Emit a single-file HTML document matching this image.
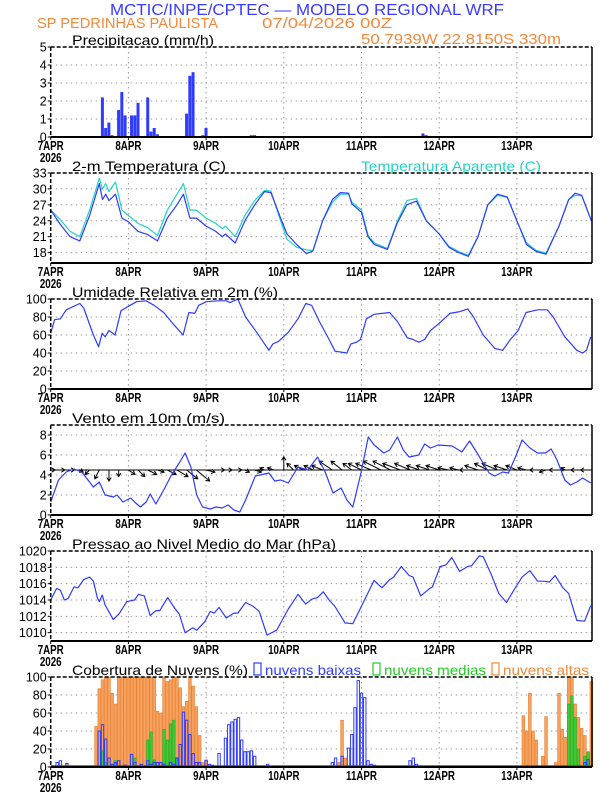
<!DOCTYPE html>
<html><head><meta charset="utf-8"><style>
html,body{margin:0;padding:0;background:#fff;}
svg{display:block;font-family:"Liberation Sans",sans-serif;}
</style></head><body>
<svg id="chart" width="612" height="792" viewBox="0 0 612 792" xmlns="http://www.w3.org/2000/svg">
<text x="110" y="15" font-size="16" fill="#3a3aff" textLength="394" lengthAdjust="spacingAndGlyphs">MCTIC/INPE/CPTEC — MODELO REGIONAL WRF</text>
<text x="37" y="28" font-size="15" fill="#f08a3c" textLength="181" lengthAdjust="spacingAndGlyphs">SP PEDRINHAS PAULISTA</text>
<text x="262" y="28" font-size="15" fill="#f08a3c" textLength="130" lengthAdjust="spacingAndGlyphs">07/04/2026 00Z</text>
<text x="361" y="44" font-size="15" fill="#f08a3c" textLength="200" lengthAdjust="spacingAndGlyphs">50.7939W 22.8150S 330m</text>
<g id="g"></g>
</svg>
<script>
// ---- data ----
const dayLabels=["7APR","8APR","9APR","10APR","11APR","12APR","13APR"];
const precipHours=[16,17,18,19,21,22,23,25,26,27,30,31,32,33,42,43,44,47,48,62,63,115,116];
const precipVals=[2.2,0.5,0.8,0.1,1.5,2.5,1.2,1.2,1.2,1.9,2.2,0.3,0.5,0.15,1.3,3.4,3.6,0.1,0.5,0.1,0.1,0.2,0.1];
const tempHours=[0,3,6,9,12,15,16,17,18,20,22,24,27,30,33,36,39,41,43,45,48,51,53,54,57,60,63,66,68,71,73,76,79,81,84,87,89.5,92,93,96,98,100,104,107,110,113,116,120,123,126,129,132,135,138,141,144,147,150,153,157,160,162,164,167];
const tempVals=[26,23.3,21,20.2,25,31,28,29,27.8,29,24.5,23.8,22,21.4,20.2,24.5,27,29,24.5,24.5,23,22,21,21.5,19.8,24,27,29.5,29.3,24.5,21.5,19.5,17.8,18.3,24,28,29.3,29.2,27.2,25.6,21,19.5,18.6,23.5,27,27.7,24,21.5,19,18,17.3,21,27,29,28.5,24,19.5,18.2,17.7,23,28,29.2,28.8,24];
const apparentVals=[26,24.2,22,21,26,32,30,31,29.5,31.3,26,25,23.5,22.7,21.2,26,29,31,26,26,24.5,23.5,22.5,23,21,25,27.8,29.7,29.6,24,20.5,19,18.5,18.4,24,27.5,29,29,27.5,26,21.3,19.8,18.8,23.8,27.8,28.2,24,21.5,19.2,18.2,17.5,21,27,28.8,28.4,24,19.8,18.4,17.9,23,28,28.8,28.7,24];
const rhHours=[0,1.2,3,4.8,9,10.2,13.2,14.8,15.9,16.8,18,19.9,21.7,24.1,26.5,29.5,31.9,34.9,37.9,40.9,42.7,44.5,45.7,48.1,51.7,54.2,55.4,57.8,60.2,63.8,67.4,68.6,70.4,73.4,76.4,78.8,80.6,83,86,87.8,91.5,92.7,94.5,95.7,97.5,99.9,104.7,107.1,110.1,111.9,113.7,115.5,117.3,119.7,123.3,126.4,128.8,130.6,133.6,137.2,139.6,142,144.4,146.8,150.4,153.4,155.2,158.8,162.5,164.3,165.5,166.8];
const rhVals=[62,77,78,88,95,90,60,47,62,58,65,60,87,92,97,98,93,85,72,60,85,84,93,97,98,98,96,100,80,62,43,50,53,63,78,95,93,75,55,42,40,50,52,55,78,83,85,75,57,55,52,55,65,72,84,86,89,80,60,45,43,55,65,85,88,88,80,58,43,40,43,58];
const windHours=[0,2.4,4.8,7.2,9.6,13.2,15,16.8,19.3,20.5,22.3,24.7,25.9,27.7,29.5,30.7,32.5,34.9,37.3,39.7,41.5,43.3,45.1,46.9,49.3,51.1,52.9,54.8,56.6,58.4,60.2,63.2,67.4,69.2,71,73.4,76.4,79.4,82.4,84.8,87.2,89.7,91.5,93.3,95.7,98.1,99.9,102.9,104.7,107.1,108.9,110.7,113.7,115.5,117.3,119.7,124,127,129.4,131.7,135.4,137.2,139.6,141.4,143.8,145.6,148,150.4,152.8,154.6,156.4,158.8,160.5,162.5,164.3,166.8];
const windSpeed=[1.3,3.5,4.3,4.6,4.3,2.8,3.3,2,1.8,2,1.3,1.7,1.3,0.8,1.3,2.1,1.1,2.5,4,5.2,6.2,4.8,2,0.8,0.6,0.8,0.7,1,0.5,0.3,1.5,3.9,4.2,3.4,3.5,3.2,4.8,4.5,5.8,4.3,2.2,2.7,1.5,0.8,4,7.8,7,6.2,6.5,7.8,6.5,5.8,6,7.1,6.7,7,6.9,6.3,7.4,6.2,4.2,3.9,4.3,4.2,6,7.5,6.7,6.2,6.2,6.6,5.5,3.5,3,3.3,3.7,3.2];
const vecHours=[0,3,6,9,12,15,18,21,24,27,30,33,36,39,42,45,48,51,54,57,60,63,66,69,72,75,78,81,84,87,90,93,96,99,102,105,108,111,114,117,120,123,126,129,132,135,138,141,144,147,150,153,156,159,162,165];
const vecU=[2,2,2,1.5,-2,-2,0,0,3,3,4,3,4,5,5,6,4,4,3,3,2,3,-2,-3,0,-3,-4,-4,-5,-6,-5,-4,-6,-7,-8,-8,-8,-7,-6,-6,-6,-5,-4,-4,-6,-6,-7,-6,-5,-4,-3,-3,-3,-2,-2,-2];
const vecV=[0,0,0,-1,-2,-4,-5,-3,-2,-3,-2,-1,-2,-3,-4,-5,-1,0,0,0,-1,-1,1,1,6,3,2,2,2,4,4,3,3,3,4,4,3,3,2,2,2,1,1,0,2,3,3,2,2,1,0,-1,0,1,0,0];
const presHours=[0,1.8,3,4.2,5.4,7.2,8.4,10.2,12,13.2,14.4,15,15.9,16.8,19.3,21.1,23.5,25.9,27.1,28.9,30.7,32.5,33.7,36.1,38.5,39.7,41.5,43.9,45.1,47.5,49.3,50.5,52,54.2,56.6,57.8,60.2,62.6,64.4,66.8,69.8,73.4,76.4,78.8,80.6,82.4,84.2,86,87.8,90.9,93.3,96.3,99.9,102.3,104.7,105.9,108.3,110.7,111.9,114.3,116.7,117.9,120.3,122.1,123.9,126.3,128.8,130,132.4,133.6,136,138.4,140.8,143.2,145.6,148,150.4,152.2,154,155.8,158.2,160,162.5,164.9,166.8];
const presVals=[1014,1015.4,1015.2,1014,1014.2,1015.6,1015.5,1016.5,1016.8,1016.3,1014.3,1013.8,1014.6,1013.4,1011.6,1012.3,1013.8,1014,1014.7,1014.5,1012.1,1012.7,1012.7,1014.3,1012.9,1012.3,1010,1010.6,1010.3,1011.3,1012.6,1012.4,1013.1,1011.8,1012.4,1012.4,1013.7,1013.2,1012.6,1009.7,1010.3,1012.9,1014.7,1013.5,1014.1,1014.3,1015,1014,1013.2,1011.2,1011.1,1013.5,1016.4,1015.5,1016.5,1016.8,1018.1,1017,1016.8,1014.5,1015.3,1015.6,1018.1,1018.3,1019.2,1017.5,1018.1,1018.2,1019.4,1019.3,1017.2,1014.8,1013.7,1015.3,1016.8,1017.6,1016.3,1016.3,1016.2,1017,1015.5,1014.8,1011.5,1011.4,1013.3];
const highHours=[5,14,15,16,17,18,19,20,21,22,23,24,25,26,27,28,29,30,31,32,33,34,35,36,37,38,39,40,41,42,43,44,45,46,47,48,89,90,91,146,147,148,149,150,152,153,156,157,158,159,160,161,162,163,164,165,166,167];
const highVals=[4,45,87,97,100,100,82,70,100,100,100,100,100,100,100,100,100,100,100,100,62,60,100,95,97,100,100,88,67,73,100,90,67,35,5,8,5,52,10,57,40,82,40,30,12,56,5,82,42,33,100,100,70,55,43,35,16,95];
const midHours=[16,17,20,26,30,31,32,35,36,37,38,39,160,161,162,163,165,166];
const midVals=[18,5,7,10,30,39,8,42,30,48,52,10,70,79,55,20,12,17];
const lowHours=[2,3,5,15,16,17,18,19,20,21,23,25,26,28,30,31,32,33,34,35,37,38,39,40,41,42,43,44,45,46,48,49,50,52,54,55,56,57,58,59,60,61,62,63,67,87,88,90,92,93,94,95,96,97,98,99,100,111,112,113,165,166];
const lowVals=[5,7,4,40,47,31,10,3,5,7,2,14,5,3,7,3,5,5,5,3,5,3,10,25,61,52,36,15,5,5,7,3,2,15,32,47,50,53,55,30,17,17,18,12,3,5,10,12,21,36,66,96,82,77,7,3,2,7,10,3,5,8];

// ---- layout ----
const NS="http://www.w3.org/2000/svg";
const G=document.getElementById('g');
const L=50.7,R=592,DAY=77.7;
function X(h){return L+h*DAY/24;}
function mk(tag,attrs,parent){const e=document.createElementNS(NS,tag);for(const k in attrs)e.setAttribute(k,attrs[k]);(parent||G).appendChild(e);return e;}
function panel(name,top,ymin,ymax,ticks,title,titleLen){
  const H=90,bot=top+H;
  const Y=v=>bot-(v-ymin)/(ymax-ymin)*H;
  const g=mk('g',{});
  
  
  const grid=mk('g',{},g);
  
  
  for(let d=1;d<7;d++){const x=L+d*DAY;mk('line',{x1:x,x2:x,y1:top,y2:bot,stroke:'#999','stroke-width':1,'stroke-dasharray':'1.5,3.5'},grid);}
  ticks.forEach(t=>{const y=Y(t);if(y>top+1&&y<bot-1)mk('line',{x1:L,x2:R,y1:y,y2:y,stroke:'#999','stroke-width':1,'stroke-dasharray':'1.5,3.5'},grid);
    const tl=mk('text',{x:L-4,y:y+4.5,'font-size':12.5,'text-anchor':'end',fill:'#000'},g);tl.textContent=t;
    
    
    mk('line',{x1:L-3,x2:L,y1:y,y2:y,stroke:'#000'},g);});
  dayLabels.forEach((lab,d)=>{const x=L+d*DAY;
    const t=mk('text',{x:x,y:bot+13,'font-size':13,'text-anchor':'middle',fill:'#000','font-weight':'bold',transform:`translate(${x},0) scale(0.75,1) translate(${-x},0)`},g);t.textContent=lab;
    
    
    mk('line',{x1:x,x2:x,y1:bot,y2:bot+3,stroke:'#000'},g);});
  const yr=mk('text',{x:L,y:bot+25,'font-size':13,'text-anchor':'middle',fill:'#000','font-weight':'bold',transform:`translate(${L},0) scale(0.75,1) translate(${-L},0)`},g);yr.textContent='2026';
  
  
  const tt=mk('text',{x:72,y:top-2,'font-size':14,fill:'#000',textLength:titleLen,lengthAdjust:'spacingAndGlyphs'},g);tt.textContent=title;
  
  
  const plot=mk('g',{},g);
  
  
  return {Y,top,bot,plot,g,frame(){
    mk('line',{x1:L,x2:R,y1:top,y2:top,stroke:'#000','stroke-width':1.5,'stroke-dasharray':'4,2'},g);
    mk('line',{x1:L,x2:L,y1:top,y2:bot,stroke:'#000','stroke-width':1.5,'stroke-dasharray':'4,2'},g);
    mk('line',{x1:R,x2:R,y1:top,y2:bot,stroke:'#000','stroke-width':1.5},g);
    mk('line',{x1:L,x2:R,y1:bot,y2:bot,stroke:'#000','stroke-width':2},g);}};
}
function line(p,hs,vs,color,name){
  const d=hs.map((h,i)=>(i?'L':'M')+X(h).toFixed(1)+','+p.Y(vs[i]).toFixed(1)).join('');
  const e=mk('path',{d:d,fill:'none',stroke:color,'stroke-width':1.2,'stroke-linejoin':'round'},p.plot);
  
  
}
const BLUE='#2f3cff';
const p1=panel('precip',47,0,5,[0,1,2,3,4,5],'Precipitacao (mm/h)',142);
precipHours.forEach((h,i)=>{const y=p1.Y(precipVals[i]);
  const b=mk('rect',{x:X(h)-1.6,y:y,width:3,height:p1.bot-y,fill:BLUE},p1.plot);
  
  });
p1.frame();
const p2=panel('temperature',173,16.04,33,[18,21,24,27,30,33],'2-m Temperatura (C)',154);
line(p2,tempHours,apparentVals,'#22d4c4','apparent-temperature-line');
line(p2,tempHours,tempVals,BLUE,'temperature-line');
const at=mk('text',{x:361,y:171,'font-size':14,fill:'#22d4c4',textLength:180,lengthAdjust:'spacingAndGlyphs'},p2.g);at.textContent='Temperatura Aparente (C)';


p2.frame();
const p3=panel('humidity',299,0,100,[0,20,40,60,80,100],'Umidade Relativa em 2m (%)',206);
line(p3,rhHours,rhVals,BLUE,'humidity-line');
p3.frame();
const p4=panel('wind',425,0,9,[0,2,4,6,8],'Vento em 10m (m/s)',153);
const base=p4.Y(4.5);
vecHours.forEach((h,i)=>{const x0=X(h),u=vecU[i]*2.2,v=vecV[i]*2.2;const x1=x0+u,y1=base-v;
  const len=Math.hypot(u,v)||1,ux=u/len,uy=-v/len;
  const d=`M${x0},${base}L${x1},${y1}M${x1-ux*3.5-uy*2.2},${y1-uy*3.5+ux*2.2}L${x1},${y1}L${x1-ux*3.5+uy*2.2},${y1-uy*3.5-ux*2.2}`;
  const a=mk('path',{d:d,stroke:'#000','stroke-width':1,fill:'none'},p4.plot);
  
  });
mk('line',{x1:L,x2:R,y1:base,y2:base,stroke:'#000','stroke-width':1},p4.plot);
line(p4,windHours,windSpeed,BLUE,'wind-speed-line');
p4.frame();
const p5=panel('pressure',551,1008.98,1020,[1010,1012,1014,1016,1018,1020],'Pressao ao Nivel Medio do Mar (hPa)',264);
line(p5,presHours,presVals,BLUE,'pressure-line');
p5.frame();
const p6=panel('clouds',677,0,100,[0,20,40,60,80,100],'Cobertura de Nuvens (%)',176);
highHours.forEach((h,i)=>{const y=p6.Y(highVals[i]);
  const b=mk('rect',{x:X(h)-1.4,y:y,width:2.8,height:p6.bot-y,fill:'#f6a25c',stroke:'#e8823a','stroke-width':0.6},p6.plot);
  
  });
midHours.forEach((h,i)=>{const y=p6.Y(midVals[i]);
  const b=mk('rect',{x:X(h)-1.2,y:y,width:2.4,height:p6.bot-y,fill:'#3ccc3c',stroke:'#18b818','stroke-width':0.6},p6.plot);
  
  });
mk('line',{x1:L,x2:R,y1:p6.bot-1,y2:p6.bot-1,stroke:BLUE,'stroke-width':1.5},p6.plot);
lowHours.forEach((h,i)=>{const y=p6.Y(lowVals[i]);
  const b=mk('rect',{x:X(h)-1.2,y:y,width:2.4,height:p6.bot-y,fill:'none',stroke:BLUE,'stroke-width':1},p6.plot);
  
  });
const legs=[['#2f3cff','nuvens baixas',254,96,'legend-low-clouds'],['#22cc22','nuvens medias',373,102,'legend-mid-clouds'],['#f08a3c','nuvens altas',492,86,'legend-high-clouds']];
legs.forEach(l=>{const gg=mk('g',{},p6.g);
  
  
  mk('rect',{x:l[2],y:663,width:7,height:12,fill:'none',stroke:l[0],'stroke-width':1.2},gg);
  const t=mk('text',{x:l[2]+11,y:675,'font-size':14,fill:l[0],textLength:l[3],lengthAdjust:'spacingAndGlyphs'},gg);t.textContent=l[1];});
p6.frame();
</script>
</body></html>
